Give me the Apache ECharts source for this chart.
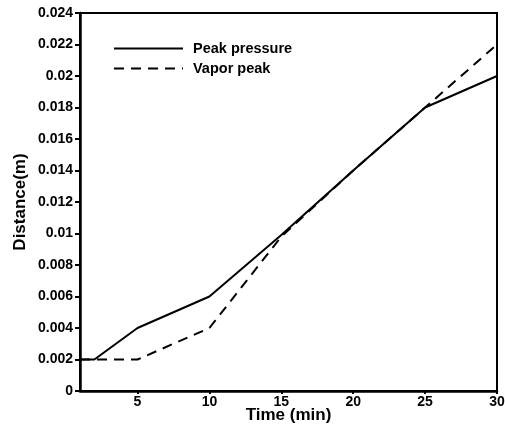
<!DOCTYPE html>
<html>
<head>
<meta charset="utf-8">
<script src="https://cdn.jsdelivr.net/npm/echarts@6/dist/echarts.min.js"></script>
<style>html,body{margin:0;padding:0;background:#fff}#c{width:505px;height:429px}</style>
</head>
<body>
<div id="c"></div>
<script>
const xTicks = [5, 10, 15, 20, 25, 30];
const peakTime = [1, 2, 5, 10, 15, 20, 25, 30];
const peakPressure = [0.002, 0.002, 0.004, 0.006, 0.0099, 0.014, 0.018, 0.020];
const vaporTime = [1, 5, 10, 15, 20, 25, 30];
const vaporPeak = [0.002, 0.002, 0.004, 0.0098, 0.014, 0.018, 0.022];

const font = 'Liberation Sans, Arial, sans-serif';
const chart = echarts.init(document.getElementById('c'), null, {renderer: 'canvas'});
chart.setOption({
  animation: false,
  backgroundColor: '#fff',
  grid: {left: 80, right: 8, top: 13, bottom: 38, outerBoundsMode: 'none', containLabel: false,
         show: true, borderColor: '#000', borderWidth: 2, backgroundColor: 'transparent'},
  legend: {
    orient: 'vertical', left: 113, top: 41, padding: 0, itemWidth: 69, itemHeight: 14, itemGap: 5,
    itemStyle: {opacity: 0},
    textStyle: {fontFamily: font, fontWeight: 'bold', fontSize: 14.5, color: '#000', padding: [0, 0, 0, 5]},
    data: ['Peak pressure', 'Vapor peak']
  },
  xAxis: {
    type: 'value', min: 1, max: 30,
    name: 'Time (min)', nameLocation: 'middle', nameGap: 16, nameMoveOverlap: false,
    nameTextStyle: {fontFamily: font, fontWeight: 'bold', fontSize: 17, color: '#000'},
    axisLine: {lineStyle: {color: '#000', width: 2.5}},
    axisTick: {show: true, length: 3, lineStyle: {color: '#000', width: 2}, customValues: xTicks},
    axisLabel: {margin: 4, fontFamily: font, fontWeight: 'bold', fontSize: 14, color: '#000', customValues: xTicks},
    splitLine: {show: false}
  },
  yAxis: {
    type: 'value', min: 0, max: 0.024, interval: 0.002,
    name: 'Distance(m)', nameLocation: 'middle', nameGap: 51, nameMoveOverlap: false,
    nameTextStyle: {fontFamily: font, fontWeight: 'bold', fontSize: 17, color: '#000'},
    axisLine: {show: true, lineStyle: {color: '#000', width: 2.5}},
    axisTick: {show: true, length: 5, lineStyle: {color: '#000', width: 2}},
    axisLabel: {margin: 7, fontFamily: font, fontWeight: 'bold', fontSize: 14, color: '#000',
      formatter: v => String(+v.toFixed(3))},
    splitLine: {show: false}
  },
  series: [
    {name: 'Peak pressure', type: 'line', symbol: 'none', z: 3,
     data: peakTime.map((t, i) => [t, peakPressure[i]]),
     lineStyle: {color: '#000', width: 2}, itemStyle: {color: '#000'}},
    {name: 'Vapor peak', type: 'line', symbol: 'none', z: 2,
     data: vaporTime.map((t, i) => [t, vaporPeak[i]]),
     lineStyle: {color: '#000', width: 2, type: [10, 7]}, itemStyle: {color: '#000'}}
  ]
});
</script>
</body>
</html>
